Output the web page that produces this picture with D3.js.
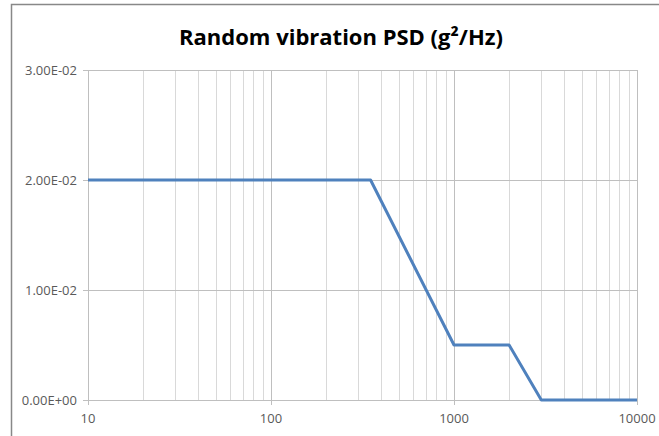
<!DOCTYPE html>
<html><head><meta charset="utf-8">
<script src="https://cdn.jsdelivr.net/npm/d3@7"></script>
<style>body{margin:0;background:#fff;}svg{display:block;font-family:"Open Sans","Liberation Sans",sans-serif;}</style>
</head><body>
<svg id="c" width="659" height="436"></svg>
<script>
const freqs = [10, 350, 1000, 2000, 3000, 10000];
const psd = [0.02, 0.02, 0.005, 0.005, 0, 0];
const yTicks = [0, 0.01, 0.02, 0.03];
const xTicks = [10, 100, 1000, 10000];
const title = "Random vibration PSD (g²/Hz)";

const svg = d3.select("#c");
const L = 88, R = 637, T = 70, B = 400;
const x = d3.scaleLog().domain([10, 10000]).range([L, R]);
const y = d3.scaleLinear().domain([0, 0.03]).range([B, T]);

// outer frame
svg.append("rect").attr("x", 11.5).attr("y", 4.5).attr("width", 700).attr("height", 500)
  .attr("fill", "none").attr("stroke", "#888").attr("stroke-width", 1.5);

// minor grid
const minor = [];
for (let d = 10; d < 10000; d *= 10) for (let k = 2; k <= 9; k++) minor.push(d * k);
svg.append("g").selectAll("line").data(minor).join("line")
  .attr("x1", d => Math.round(x(d)) + 0.5).attr("x2", d => Math.round(x(d)) + 0.5)
  .attr("y1", T).attr("y2", B).attr("stroke", "#d9d9d9").attr("stroke-width", 1);
// major vertical grid
svg.append("g").selectAll("line").data(xTicks).join("line")
  .attr("x1", d => Math.round(x(d)) + 0.5).attr("x2", d => Math.round(x(d)) + 0.5)
  .attr("y1", T).attr("y2", B + 5).attr("stroke", "#bfbfbf").attr("stroke-width", 1);
// horizontal grid
svg.append("g").selectAll("line").data(yTicks).join("line")
  .attr("x1", L - 5).attr("x2", R)
  .attr("y1", d => Math.round(y(d)) + 0.5).attr("y2", d => Math.round(y(d)) + 0.5)
  .attr("stroke", "#bfbfbf").attr("stroke-width", 1);

// axes labels
const fmt = v => { const s = v.toExponential(2).toUpperCase(); return s.replace(/E([+-])(\d)$/, "E$10$2"); };
svg.append("g").selectAll("text").data(yTicks).join("text")
  .attr("x", L - 11).attr("y", d => y(d)).attr("dy", "0.35em").attr("text-anchor", "end")
  .attr("font-size", 13).attr("fill", "#595959").text(fmt);
svg.append("g").selectAll("text").data(xTicks).join("text")
  .attr("x", d => x(d)).attr("y", B + 23).attr("text-anchor", "middle")
  .attr("font-size", 13).attr("fill", "#595959").text(d => d);

// line
svg.append("path").datum(freqs.map((f, i) => [f, psd[i]]))
  .attr("d", d3.line().x(d => x(d[0])).y(d => y(d[1])))
  .attr("fill", "none").attr("stroke", "#4F81BD").attr("stroke-width", 3).attr("stroke-linejoin", "round");

// title
svg.append("text").attr("x", 341).attr("y", 45).attr("text-anchor", "middle")
  .attr("font-size", 22).attr("font-weight", "bold").attr("fill", "#000").text(title);
</script>
</body></html>
